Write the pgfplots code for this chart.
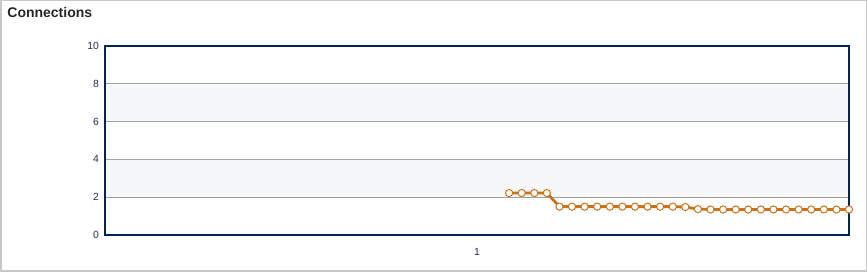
\documentclass[border=0pt]{standalone}
\usepackage{pgfplots}
\pgfplotsset{compat=1.18}
\usepackage{fontspec}
\setmainfont{Liberation Sans}
\definecolor{frame}{HTML}{002650}
\definecolor{ln}{HTML}{C8731A}
\definecolor{band}{HTML}{F6F7F9}
\definecolor{gridc}{HTML}{A0A0A0}
\definecolor{tick}{HTML}{2A2A58}
\definecolor{outer}{HTML}{C8C8C8}
\begin{document}
\begin{tikzpicture}
\draw[outer,line width=0.75pt] (0.375pt,0.375pt) rectangle (433.125pt,135.625pt);
\node[anchor=west,font=\bfseries\fontsize{7}{8}\selectfont,text=black!85,inner sep=0pt] at (3.5pt,129.5pt) {Connections};
\begin{axis}[
  at={(52.5pt,18.5pt)}, anchor=origin,
  scale only axis, width=372pt, height=94.5pt,
  xmin=0, xmax=59.1, ymin=0, ymax=10,
  ytick={0,2,4,6,8,10},
  xtick={29.55}, xticklabels={1},
  major tick length=0pt,
  ymajorgrids, grid style={gridc,line width=0.5pt},
  axis line style={frame,line width=1.3pt},
  tick label style={font=\fontsize{5.2}{6}\selectfont,text=tick},
  yticklabel style={xshift=0.5pt},
  xticklabel style={yshift=-3pt},
  /pgf/number format/assume math mode=true,
  set layers, clip=false,
]
\begin{pgfonlayer}{axis background}
\fill[band] (axis cs:0,2) rectangle (axis cs:59.1,4);
\fill[band] (axis cs:0,6) rectangle (axis cs:59.1,8);
\end{pgfonlayer}
\addplot[ln, line width=1.4pt, mark=*, mark size=1.8pt, mark options={fill=white,draw=ln,line width=0.5pt}] coordinates {
(32.1,2.22)(33.1,2.22)(34.1,2.22)(35.1,2.22)
(36.1,1.5)(37.1,1.5)(38.1,1.5)(39.1,1.5)(40.1,1.5)(41.1,1.5)(42.1,1.5)(43.1,1.5)(44.1,1.5)(45.1,1.5)(46.1,1.48)
(47.1,1.37)(48.1,1.35)(49.1,1.35)(50.1,1.35)(51.1,1.35)(52.1,1.35)(53.1,1.35)(54.1,1.35)(55.1,1.35)(56.1,1.35)(57.1,1.35)(58.1,1.35)(59.1,1.35)
};
\end{axis}
\end{tikzpicture}
\end{document}
